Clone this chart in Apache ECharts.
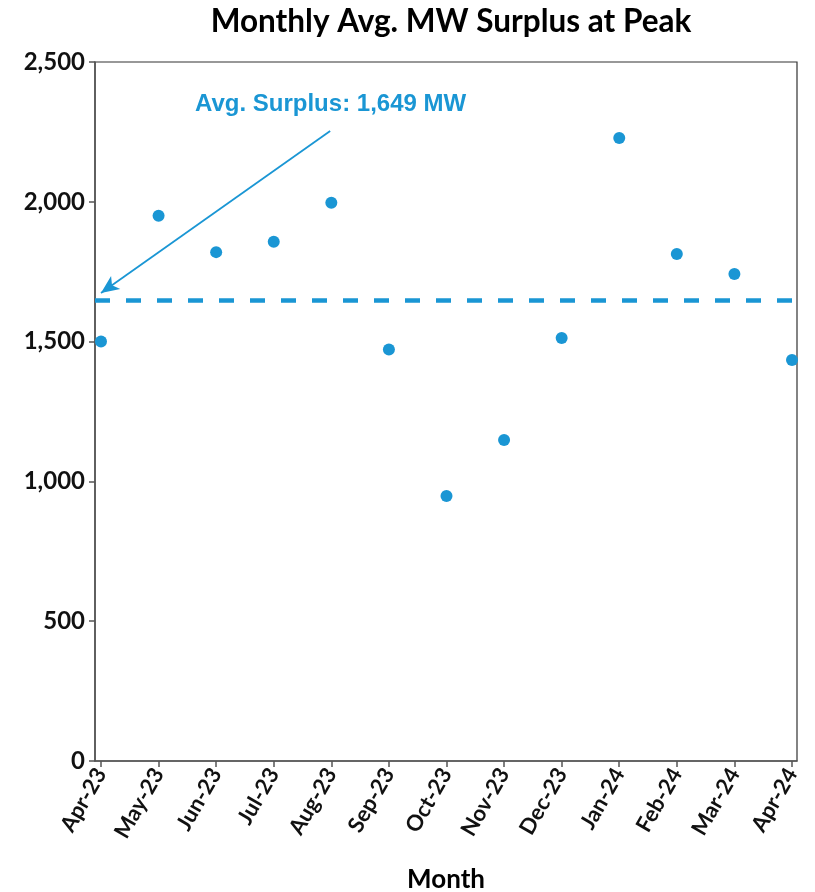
<!DOCTYPE html>
<html><head><meta charset="utf-8">
<script src="https://cdn.jsdelivr.net/npm/echarts@6/dist/echarts.min.js"></script>
<style>html,body{margin:0;padding:0;background:#fff}#c{width:815px;height:892px}</style>
</head><body><div id="c"></div>
<script>
const months = ['Apr-23','May-23','Jun-23','Jul-23','Aug-23','Sep-23','Oct-23','Nov-23','Dec-23','Jan-24','Feb-24','Mar-24','Apr-24'];
const surplus = [1500,1950,1820,1857,1997,1472,948,1148,1513,2228,1813,1742,1434];
const avgSurplus = 1649;
const yTicks = [0,500,1000,1500,2000,2500];
const annotationText = 'Avg. Surplus: 1,649 MW';
const arrowFrom = [3.98, 2253];
const arrowTo = [0, 1674];

const blue = '#1a96d4';
const idx = months.map((m,i)=>i);
const chart = echarts.init(document.getElementById('c'));
chart.setOption({
  animation:false,
  title:{text:'Monthly Avg. MW Surplus at Peak',left:446,textAlign:'center',top:1,
    textStyle:{fontFamily:'Lato, "Open Sans", sans-serif',fontSize:31.5,fontWeight:'bold',color:'#000'}},
  grid:{left:95,right:18,top:62,bottom:131,outerBoundsMode:'none',containLabel:false,show:true,borderColor:'#333',borderWidth:1.2},
  xAxis:{type:'value',min:-0.104,max:12.087,
    name:'Month',nameLocation:'middle',nameGap:106,
    nameTextStyle:{fontFamily:'Lato, sans-serif',fontSize:26,fontWeight:'bold',color:'#000'},
    axisLine:{onZero:false,lineStyle:{color:'#555',width:1.5}},
    axisTick:{show:true,length:6,customValues:idx,lineStyle:{color:'#555',width:1.5}},
    splitLine:{show:false},
    axisLabel:{customValues:idx,rotate:60,margin:9,formatter:v=>months[Math.round(v)],
      fontFamily:'Lato, sans-serif',fontSize:22,fontWeight:'bold',color:'#111'}},
  yAxis:{type:'value',min:0,max:2500,interval:500,
    axisLine:{show:true,onZero:false,lineStyle:{color:'#555',width:1.5}},
    axisTick:{show:true,length:6,lineStyle:{color:'#555',width:1.5}},
    splitLine:{show:false},
    axisLabel:{margin:10,formatter:v=>v.toLocaleString('en-US'),
      fontFamily:'Lato, sans-serif',fontSize:24,fontWeight:'bold',color:'#111'}},
  series:[{
    type:'scatter',symbolSize:12,itemStyle:{color:blue,opacity:1},
    data:surplus.map((v,i)=>[i,v]),
    markLine:{silent:true,symbol:['none','none'],
      data:[
        [{coord:[-0.104,avgSurplus],lineStyle:{type:[15,16],width:4.5,color:blue,opacity:1}},{coord:[12.087,avgSurplus]}],
        [{coord:arrowFrom,symbol:'none',lineStyle:{type:'solid',width:1.8,color:blue,opacity:1}},{coord:arrowTo,symbol:'arrow',symbolSize:[12,18]}]
      ],
      label:{show:false}}
  }],
  graphic:[{type:'text',left:195,top:92,style:{text:annotationText,
    font:'bold 24px "Liberation Sans", Arial, sans-serif',fill:blue}}]
});
</script></body></html>
